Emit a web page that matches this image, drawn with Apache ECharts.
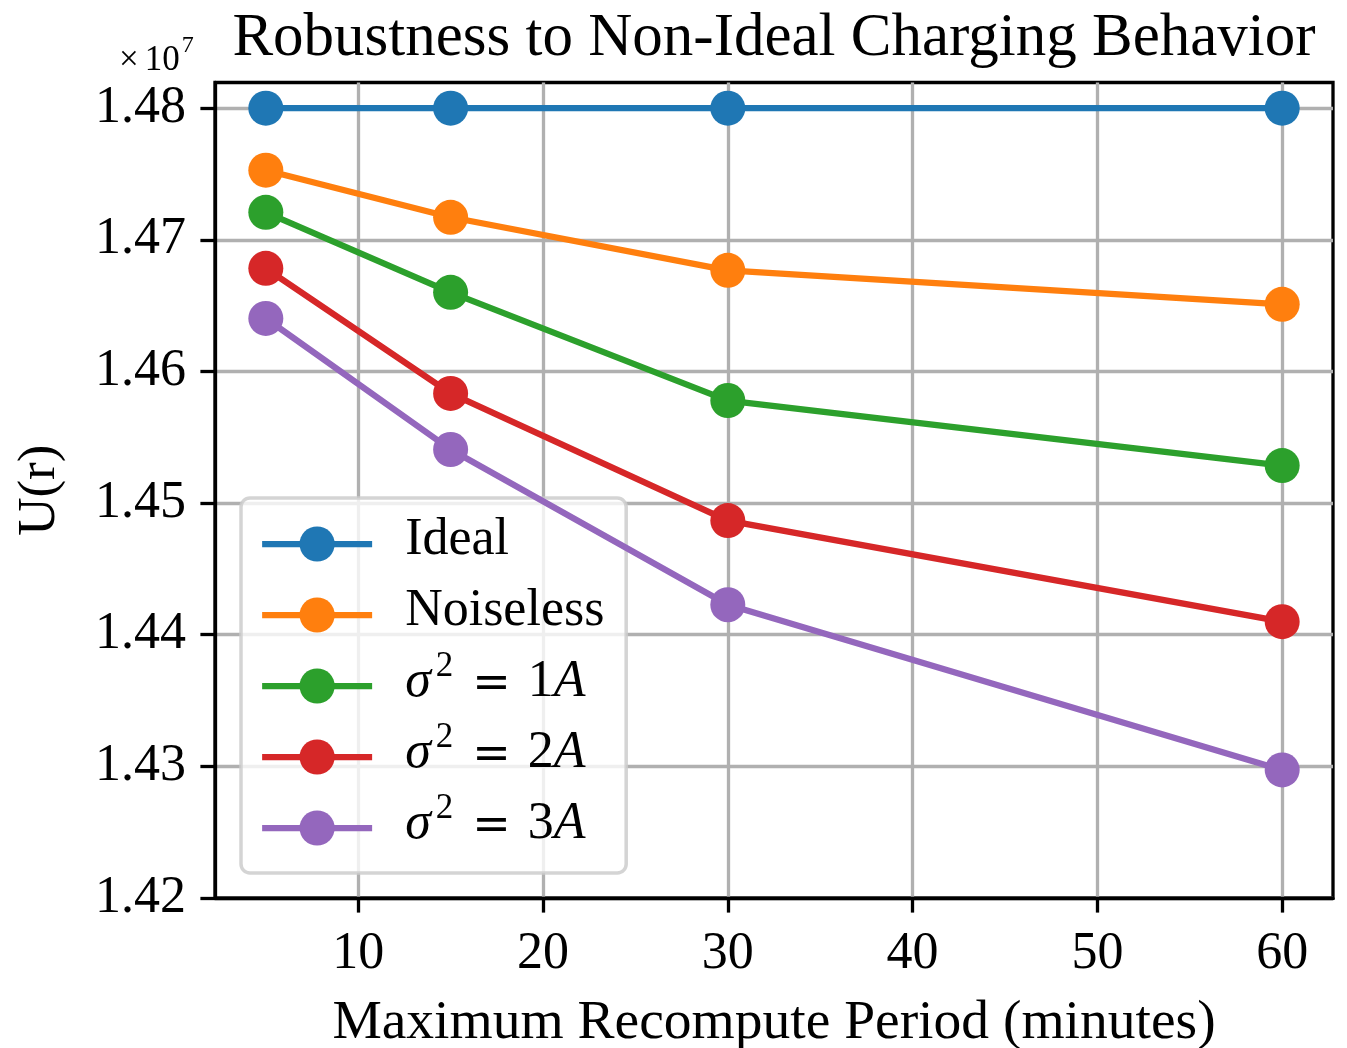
<!DOCTYPE html>
<html>
<head>
<meta charset="utf-8">
<script src="https://cdn.jsdelivr.net/npm/echarts@6/dist/echarts.min.js"></script>
<style>
  html, body { margin: 0; padding: 0; background: #fff; }
  #chart { width: 1347px; height: 1048px; }
</style>
</head>
<body>
<div id="chart"></div>
<script>
// Recompute period (minutes) on the x axis
const periods = [5, 15, 30, 60];

// U(r) for each charging scenario
const seriesNames = ['Ideal', 'Noiseless', 'σ^2 = 1A', 'σ^2 = 2A', 'σ^2 = 3A'];
const ideal     = [14800000, 14800000, 14800000, 14800000];
const noiseless = [14752900, 14717100, 14676800, 14651000];
const sigma1    = [14720900, 14660100, 14577900, 14528500];
const sigma2    = [14678300, 14583300, 14486700, 14409900];
const sigma3    = [14640300, 14540700, 14422800, 14297300];

const colors = ['#1f77b4', '#ff7f0e', '#2ca02c', '#d62728', '#9467bd'];

// Tick positions
const xTicks = [10, 20, 30, 40, 50, 60];
const yTicks = [14200000, 14300000, 14400000, 14500000, 14600000, 14700000, 14800000];

const FONT = '"Liberation Serif", "DejaVu Serif", serif';
const allValues = [ideal, noiseless, sigma1, sigma2, sigma3];

const chart = echarts.init(document.getElementById('chart'), null, { renderer: 'canvas' });

// Legend label: "σ^2 = 1A" becomes italic σ, raised 2, a wide "=", upright 1, italic A.
// Plain labels get an empty raised slot so every row has the same height.
function legendLabel(name) {
  const m = name.match(/^σ\^(\d+) = (\d+)A$/);
  if (!m) return '{n|' + name + '}{pad| }';
  return '{it|σ}{g1| }{sup|' + m[1] + '}{g2| }{eq|=}{g3| }{n|' + m[2] + '}{it|A}';
}

const option = {
  animation: false,
  backgroundColor: '#ffffff',
  title: {
    text: 'Robustness to Non-Ideal Charging Behavior',
    left: 769,
    top: 3,
    textAlign: 'center',
    textStyle: { fontFamily: FONT, fontSize: 61, fontWeight: 'normal', color: '#000' }
  },
  grid: {
    left: 215, right: 14, top: 82.5, bottom: 150,
    outerBoundsMode: 'none',
    show: true, borderColor: '#000', borderWidth: 3.3, backgroundColor: 'transparent',
    containLabel: false
  },
  xAxis: {
    type: 'value',
    min: 2.25, max: 62.75,
    name: 'Maximum Recompute Period (minutes)',
    nameLocation: 'middle',
    nameGap: 97,
    nameTextStyle: { fontFamily: FONT, fontSize: 55.5, color: '#000' },
    axisLine: { show: true, onZero: false, lineStyle: { color: '#000', width: 3.3 } },
    axisTick: { show: true, inside: false, length: 14.6, customValues: xTicks, lineStyle: { color: '#000', width: 3.3 } },
    axisLabel: { customValues: xTicks, margin: 30, fontFamily: FONT, fontSize: 52, color: '#000' },
    splitLine: { show: true, lineStyle: { color: '#b0b0b0', width: 3.3 } }
  },
  yAxis: {
    type: 'value',
    min: 14200000, max: 14819500,
    name: 'U(r)',
    nameLocation: 'middle',
    nameGap: 148,
    nameTextStyle: { fontFamily: FONT, fontSize: 53, color: '#000' },
    axisLine: { show: true, onZero: false, lineStyle: { color: '#000', width: 3.3 } },
    axisTick: { show: true, inside: false, length: 14.6, customValues: yTicks, lineStyle: { color: '#000', width: 3.3 } },
    axisLabel: {
      customValues: yTicks, margin: 29, fontFamily: FONT, fontSize: 52, color: '#000',
      formatter: v => (v / 1e7).toFixed(2)
    },
    splitLine: { show: true, lineStyle: { color: '#b0b0b0', width: 3.3 } }
  },
  legend: {
    orient: 'vertical',
    left: 241, top: 498,
    padding: [9, 13, 23, 18],
    itemWidth: 110, itemHeight: 44, itemGap: 12,
    backgroundColor: 'rgba(255,255,255,0.8)',
    borderColor: 'rgba(204,204,204,0.85)',
    borderWidth: 3.5,
    borderRadius: 9,
    lineStyle: { width: 6.25 },
    formatter: legendLabel,
    textStyle: {
      fontFamily: FONT, fontSize: 52, color: '#000',
      padding: [0, 0, 0, 28],
      rich: {
        n:   { fontFamily: FONT, fontSize: 52, lineHeight: 44, verticalAlign: 'bottom', color: '#000' },
        it:  { fontFamily: FONT, fontSize: 52, lineHeight: 44, verticalAlign: 'bottom', fontStyle: 'italic', color: '#000' },
        eq:  { fontFamily: '"DejaVu Serif", serif', fontSize: 46, lineHeight: 44, verticalAlign: 'bottom', color: '#000' },
        sup: { fontFamily: FONT, fontSize: 35, lineHeight: 20, verticalAlign: 'bottom', padding: [0, 0, 24, 0], color: '#000' },
        pad: { fontFamily: FONT, fontSize: 35, lineHeight: 20, width: 1, verticalAlign: 'bottom', padding: [0, 0, 24, 0], color: '#000' },
        g1:  { fontSize: 10, lineHeight: 10, width: 5, verticalAlign: 'bottom' },
        g2:  { fontSize: 10, lineHeight: 10, width: 19, verticalAlign: 'bottom' },
        g3:  { fontSize: 10, lineHeight: 10, width: 17, verticalAlign: 'bottom' }
      }
    },
    data: seriesNames
  },
  graphic: [{
    type: 'text',
    left: 119, top: 34,
    style: {
      text: '{x|×}{g| }{a|10}{s|7}',
      rich: {
        x: { fontFamily: FONT, fontSize: 35, lineHeight: 44, verticalAlign: 'bottom', fill: '#000' },
        g: { fontSize: 10, lineHeight: 10, width: 6, verticalAlign: 'bottom' },
        a: { fontFamily: FONT, fontSize: 35, lineHeight: 44, verticalAlign: 'bottom', fill: '#000' },
        s: { fontFamily: FONT, fontSize: 24, lineHeight: 24, verticalAlign: 'bottom', padding: [0, 0, 20, 2], fill: '#000' }
      }
    }
  }],
  series: seriesNames.map((name, i) => ({
    name: name,
    type: 'line',
    data: periods.map((p, j) => [p, allValues[i][j]]),
    symbol: 'circle',
    symbolSize: 35,
    showSymbol: true,
    color: colors[i],
    lineStyle: { width: 6.25, color: colors[i] },
    itemStyle: { color: colors[i], borderWidth: 0 },
    emphasis: { disabled: true },
    z: 2 + i
  }))
};

chart.setOption(option);
</script>
</body>
</html>
